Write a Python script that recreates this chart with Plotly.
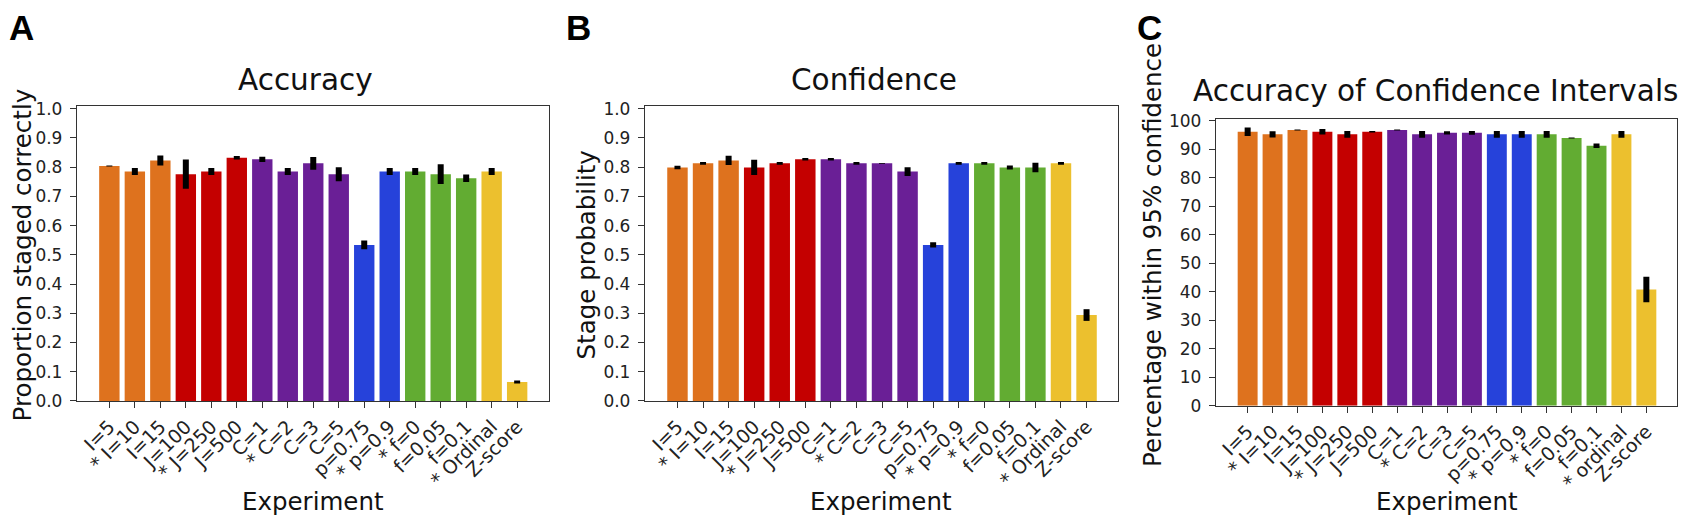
import plotly.graph_objects as go

# experiment labels along the x axis
labels = ["I=5", "* I=10", "I=15", "J=100", "* J=250", "J=500", "C=1", "* C=2",
          "C=3", "C=5", "p=0.75", "* p=0.9", "* f=0", "f=0.05", "f=0.1",
          "* Ordinal", "Z-score"]
labels_c = labels[:15] + ["* ordinal", "Z-score"]

bar_colors = ["#DE721E"] * 3 + ["#C40000"] * 3 + ["#6A1F96"] * 4 + \
             ["#2642DA"] * 2 + ["#62AC32"] * 3 + ["#ECC02E"] * 2

# panel A: accuracy
accuracy = [0.804, 0.785, 0.823, 0.776, 0.785, 0.832, 0.827, 0.785, 0.813,
            0.776, 0.534, 0.785, 0.785, 0.776, 0.762, 0.785, 0.065]
accuracy_err = [0.002, 0.012, 0.017, 0.05, 0.012, 0.006, 0.009, 0.012, 0.022,
                0.024, 0.015, 0.012, 0.012, 0.034, 0.013, 0.012, 0.005]

# panel B: confidence
confidence = [0.799, 0.813, 0.823, 0.799, 0.813, 0.827, 0.827, 0.813, 0.813,
              0.785, 0.534, 0.813, 0.813, 0.799, 0.799, 0.813, 0.294]
confidence_err = [0.006, 0.005, 0.016, 0.026, 0.005, 0.004, 0.004, 0.005, 0.001,
                  0.015, 0.009, 0.005, 0.005, 0.007, 0.016, 0.005, 0.02]

# panel C: percentage within 95% confidence
within_ci = [96.2, 95.3, 96.8, 96.2, 95.3, 96.2, 96.8, 95.3, 95.8, 95.8,
             95.3, 95.3, 95.3, 94.0, 91.3, 95.3, 40.8]
within_ci_err = [1.5, 1.1, 0.2, 1.0, 1.2, 0.3, 0.2, 1.2, 0.6, 0.7,
                 1.2, 1.2, 1.2, 0.2, 0.8, 1.2, 4.5]

# the page body keeps its default 8px margin, so the figure is drawn 8px in
# from the window corner; positions below are window pixels
OFF = 8
W, H = 1691 - OFF, 530 - OFF
FONT = "DejaVu Sans"


def px_x(p):
    return (p - OFF) / W


def px_y(p):
    return 1 - (p - OFF) / H


# pixel boxes of the three plot areas: (left, right), (top, bottom)
panels = [
    dict(vals=accuracy, errs=accuracy_err, ticks=labels, xr=(77, 548.5), yr=(100.7, 406.7),
         yrange=[0, 1.011], dtick=0.1, fmt=".1f", title="Accuracy", title_x=305, title_y=74.5,
         ylabel="Proportion staged correctly", ylabel_x=22, letter="A", letter_x=8),
    dict(vals=confidence, errs=confidence_err, ticks=labels, xr=(645, 1118), yr=(100.7, 406.7),
         yrange=[0, 1.011], dtick=0.1, fmt=".1f", title="Confidence", title_x=873.5, title_y=74.5,
         ylabel="Stage probability", ylabel_x=586, letter="B", letter_x=564.5),
    dict(vals=within_ci, errs=within_ci_err, ticks=labels_c, xr=(1216, 1677), yr=(114.3, 411.7),
         yrange=[0, 100.8], dtick=10, fmt="d", title="Accuracy of Confidence Intervals",
         title_x=1435, title_y=85.7,
         ylabel="Percentage within 95% confidence", ylabel_x=1152.5, letter="C", letter_x=1136),
]

fig = go.Figure()
annotations = []

for i, p in enumerate(panels):
    n = i + 1
    sfx = "" if n == 1 else str(n)
    xs = list(range(len(p["vals"])))
    fig.add_trace(go.Bar(
        x=xs, y=p["vals"], xaxis="x" + sfx, yaxis="y" + sfx,
        marker=dict(color=bar_colors, line=dict(width=0)),
        error_y=dict(type="data", array=p["errs"], color="black", thickness=6, width=0),
        showlegend=False,
    ))
    axis_common = dict(showline=True, linecolor="#333333", linewidth=1.3, mirror=True,
                       ticks="outside", ticklen=6, tickcolor="#333333", tickwidth=1.2,
                       showgrid=False, zeroline=False)
    fig.layout["xaxis" + sfx] = dict(
        domain=[px_x(p["xr"][0]), px_x(p["xr"][1])], anchor="y" + sfx,
        range=[-1.27, 17.23], tickmode="array", tickvals=xs, ticktext=p["ticks"],
        tickangle=-45, tickfont=dict(family=FONT, size=19, color="#222222"), **axis_common)
    fig.layout["yaxis" + sfx] = dict(
        domain=[px_y(p["yr"][1]), px_y(p["yr"][0])], anchor="x" + sfx,
        range=p["yrange"], dtick=p["dtick"], tick0=0, tickformat=p["fmt"],
        ticklabelstandoff=4, tickfont=dict(family=FONT, size=17, color="#222222"),
        **axis_common)

    cx = (p["xr"][0] + p["xr"][1]) / 2
    annotations.append(dict(text=p["title"], x=px_x(p["title_x"]), y=px_y(p["title_y"]),
                            xanchor="center", yanchor="middle",
                            font=dict(family=FONT, size=29.5, color="#111111")))
    annotations.append(dict(text="Experiment", x=px_x(cx), y=px_y(511),
                            xanchor="center", yanchor="middle",
                            font=dict(family=FONT, size=24.5, color="#111111")))
    annotations.append(dict(text=p["ylabel"], x=px_x(p["ylabel_x"]), y=px_y(256),
                            xanchor="center", yanchor="middle", textangle=-90,
                            font=dict(family=FONT, size=24.5, color="#111111")))
    annotations.append(dict(text="<b>%s</b>" % p["letter"], x=px_x(p["letter_x"]), y=px_y(20),
                            xanchor="left", yanchor="middle", borderpad=0,
                            font=dict(family="Liberation Sans", size=35, color="black")))

for a in annotations:
    a.update(xref="paper", yref="paper", showarrow=False)

fig.update_layout(
    width=W, height=H,
    margin=dict(l=0, r=0, t=0, b=0),
    paper_bgcolor="white", plot_bgcolor="white",
    bargap=0.2,
    annotations=annotations,
)

fig.write_html("out.html")
